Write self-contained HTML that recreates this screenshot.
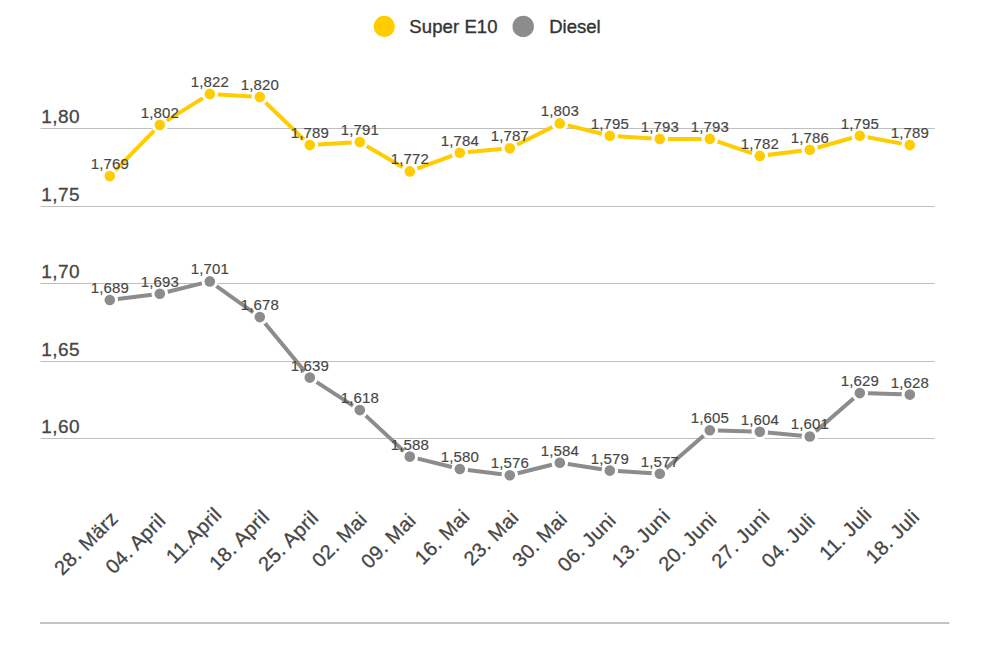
<!DOCTYPE html>
<html><head><meta charset="utf-8"><style>
html,body{margin:0;padding:0;background:#fff;width:990px;height:660px;overflow:hidden}
svg{display:block;font-family:"Liberation Sans",sans-serif}
</style></head><body>
<svg width="990" height="660" viewBox="0 0 990 660">
<rect width="990" height="660" fill="#fff"/>
<circle cx="384.3" cy="26.4" r="10.6" fill="#ffcc00"/>
<text x="409.3" y="33.3" font-size="18.5" letter-spacing="0.1" stroke="#333" stroke-width="0.35" fill="#333">Super E10</text>
<circle cx="523.2" cy="26.4" r="10.7" fill="#8c8c8c"/>
<text x="549.2" y="33.3" font-size="18.5" letter-spacing="0" stroke="#333" stroke-width="0.35" fill="#333">Diesel</text>
<rect x="40.5" y="128" width="894.2" height="1" fill="#bfbfbf"/>
<text x="41.3" y="123.0" font-size="19" letter-spacing="0.4" stroke="#464646" stroke-width="0.3" fill="#464646">1,80</text>
<rect x="40.5" y="206" width="894.2" height="1" fill="#bfbfbf"/>
<text x="41.3" y="201.0" font-size="19" letter-spacing="0.4" stroke="#464646" stroke-width="0.3" fill="#464646">1,75</text>
<rect x="40.5" y="283" width="894.2" height="1" fill="#bfbfbf"/>
<text x="41.3" y="278.0" font-size="19" letter-spacing="0.4" stroke="#464646" stroke-width="0.3" fill="#464646">1,70</text>
<rect x="40.5" y="361" width="894.2" height="1" fill="#bfbfbf"/>
<text x="41.3" y="356.0" font-size="19" letter-spacing="0.4" stroke="#464646" stroke-width="0.3" fill="#464646">1,65</text>
<rect x="40.5" y="438" width="894.2" height="1" fill="#bfbfbf"/>
<text x="41.3" y="433.0" font-size="19" letter-spacing="0.4" stroke="#464646" stroke-width="0.3" fill="#464646">1,60</text>
<rect x="40" y="622" width="909.4" height="2" fill="#c3c3c3"/>
<polyline points="109.8,176.1 159.8,124.9 209.8,93.9 259.8,97.0 309.8,145.1 359.8,142.0 409.8,171.4 459.8,152.8 509.8,148.2 559.8,123.4 609.8,135.8 659.8,138.9 709.8,138.9 759.8,155.9 809.8,149.7 859.8,135.8 909.8,145.1" fill="none" stroke="#ffcc00" stroke-width="4" stroke-linejoin="round"/>
<circle cx="109.8" cy="176.1" r="5.3" fill="#ffcc00" stroke="#fff" stroke-width="6" paint-order="stroke"/>
<circle cx="159.8" cy="124.9" r="5.3" fill="#ffcc00" stroke="#fff" stroke-width="6" paint-order="stroke"/>
<circle cx="209.8" cy="93.9" r="5.3" fill="#ffcc00" stroke="#fff" stroke-width="6" paint-order="stroke"/>
<circle cx="259.8" cy="97.0" r="5.3" fill="#ffcc00" stroke="#fff" stroke-width="6" paint-order="stroke"/>
<circle cx="309.8" cy="145.1" r="5.3" fill="#ffcc00" stroke="#fff" stroke-width="6" paint-order="stroke"/>
<circle cx="359.8" cy="142.0" r="5.3" fill="#ffcc00" stroke="#fff" stroke-width="6" paint-order="stroke"/>
<circle cx="409.8" cy="171.4" r="5.3" fill="#ffcc00" stroke="#fff" stroke-width="6" paint-order="stroke"/>
<circle cx="459.8" cy="152.8" r="5.3" fill="#ffcc00" stroke="#fff" stroke-width="6" paint-order="stroke"/>
<circle cx="509.8" cy="148.2" r="5.3" fill="#ffcc00" stroke="#fff" stroke-width="6" paint-order="stroke"/>
<circle cx="559.8" cy="123.4" r="5.3" fill="#ffcc00" stroke="#fff" stroke-width="6" paint-order="stroke"/>
<circle cx="609.8" cy="135.8" r="5.3" fill="#ffcc00" stroke="#fff" stroke-width="6" paint-order="stroke"/>
<circle cx="659.8" cy="138.9" r="5.3" fill="#ffcc00" stroke="#fff" stroke-width="6" paint-order="stroke"/>
<circle cx="709.8" cy="138.9" r="5.3" fill="#ffcc00" stroke="#fff" stroke-width="6" paint-order="stroke"/>
<circle cx="759.8" cy="155.9" r="5.3" fill="#ffcc00" stroke="#fff" stroke-width="6" paint-order="stroke"/>
<circle cx="809.8" cy="149.7" r="5.3" fill="#ffcc00" stroke="#fff" stroke-width="6" paint-order="stroke"/>
<circle cx="859.8" cy="135.8" r="5.3" fill="#ffcc00" stroke="#fff" stroke-width="6" paint-order="stroke"/>
<circle cx="909.8" cy="145.1" r="5.3" fill="#ffcc00" stroke="#fff" stroke-width="6" paint-order="stroke"/>
<polyline points="109.8,300.0 159.8,293.8 209.8,281.4 259.8,317.1 309.8,377.6 359.8,410.1 409.8,456.6 459.8,469.0 509.8,475.2 559.8,462.8 609.8,470.6 659.8,473.7 709.8,430.3 759.8,431.8 809.8,436.5 859.8,393.1 909.8,394.6" fill="none" stroke="#8c8c8c" stroke-width="4" stroke-linejoin="round"/>
<circle cx="109.8" cy="300.0" r="5.3" fill="#8c8c8c" stroke="#fff" stroke-width="6" paint-order="stroke"/>
<circle cx="159.8" cy="293.8" r="5.3" fill="#8c8c8c" stroke="#fff" stroke-width="6" paint-order="stroke"/>
<circle cx="209.8" cy="281.4" r="5.3" fill="#8c8c8c" stroke="#fff" stroke-width="6" paint-order="stroke"/>
<circle cx="259.8" cy="317.1" r="5.3" fill="#8c8c8c" stroke="#fff" stroke-width="6" paint-order="stroke"/>
<circle cx="309.8" cy="377.6" r="5.3" fill="#8c8c8c" stroke="#fff" stroke-width="6" paint-order="stroke"/>
<circle cx="359.8" cy="410.1" r="5.3" fill="#8c8c8c" stroke="#fff" stroke-width="6" paint-order="stroke"/>
<circle cx="409.8" cy="456.6" r="5.3" fill="#8c8c8c" stroke="#fff" stroke-width="6" paint-order="stroke"/>
<circle cx="459.8" cy="469.0" r="5.3" fill="#8c8c8c" stroke="#fff" stroke-width="6" paint-order="stroke"/>
<circle cx="509.8" cy="475.2" r="5.3" fill="#8c8c8c" stroke="#fff" stroke-width="6" paint-order="stroke"/>
<circle cx="559.8" cy="462.8" r="5.3" fill="#8c8c8c" stroke="#fff" stroke-width="6" paint-order="stroke"/>
<circle cx="609.8" cy="470.6" r="5.3" fill="#8c8c8c" stroke="#fff" stroke-width="6" paint-order="stroke"/>
<circle cx="659.8" cy="473.7" r="5.3" fill="#8c8c8c" stroke="#fff" stroke-width="6" paint-order="stroke"/>
<circle cx="709.8" cy="430.3" r="5.3" fill="#8c8c8c" stroke="#fff" stroke-width="6" paint-order="stroke"/>
<circle cx="759.8" cy="431.8" r="5.3" fill="#8c8c8c" stroke="#fff" stroke-width="6" paint-order="stroke"/>
<circle cx="809.8" cy="436.5" r="5.3" fill="#8c8c8c" stroke="#fff" stroke-width="6" paint-order="stroke"/>
<circle cx="859.8" cy="393.1" r="5.3" fill="#8c8c8c" stroke="#fff" stroke-width="6" paint-order="stroke"/>
<circle cx="909.8" cy="394.6" r="5.3" fill="#8c8c8c" stroke="#fff" stroke-width="6" paint-order="stroke"/>
<text x="109.8" y="169.0" font-size="15" letter-spacing="0.15" text-anchor="middle" stroke="#464646" stroke-width="0.15" fill="#464646">1,769</text>
<text x="159.8" y="117.8" font-size="15" letter-spacing="0.15" text-anchor="middle" stroke="#464646" stroke-width="0.15" fill="#464646">1,802</text>
<text x="209.8" y="86.8" font-size="15" letter-spacing="0.15" text-anchor="middle" stroke="#464646" stroke-width="0.15" fill="#464646">1,822</text>
<text x="259.8" y="89.9" font-size="15" letter-spacing="0.15" text-anchor="middle" stroke="#464646" stroke-width="0.15" fill="#464646">1,820</text>
<text x="309.8" y="138.0" font-size="15" letter-spacing="0.15" text-anchor="middle" stroke="#464646" stroke-width="0.15" fill="#464646">1,789</text>
<text x="359.8" y="134.9" font-size="15" letter-spacing="0.15" text-anchor="middle" stroke="#464646" stroke-width="0.15" fill="#464646">1,791</text>
<text x="409.8" y="164.3" font-size="15" letter-spacing="0.15" text-anchor="middle" stroke="#464646" stroke-width="0.15" fill="#464646">1,772</text>
<text x="459.8" y="145.7" font-size="15" letter-spacing="0.15" text-anchor="middle" stroke="#464646" stroke-width="0.15" fill="#464646">1,784</text>
<text x="509.8" y="141.1" font-size="15" letter-spacing="0.15" text-anchor="middle" stroke="#464646" stroke-width="0.15" fill="#464646">1,787</text>
<text x="559.8" y="116.3" font-size="15" letter-spacing="0.15" text-anchor="middle" stroke="#464646" stroke-width="0.15" fill="#464646">1,803</text>
<text x="609.8" y="128.7" font-size="15" letter-spacing="0.15" text-anchor="middle" stroke="#464646" stroke-width="0.15" fill="#464646">1,795</text>
<text x="659.8" y="131.8" font-size="15" letter-spacing="0.15" text-anchor="middle" stroke="#464646" stroke-width="0.15" fill="#464646">1,793</text>
<text x="709.8" y="131.8" font-size="15" letter-spacing="0.15" text-anchor="middle" stroke="#464646" stroke-width="0.15" fill="#464646">1,793</text>
<text x="759.8" y="148.8" font-size="15" letter-spacing="0.15" text-anchor="middle" stroke="#464646" stroke-width="0.15" fill="#464646">1,782</text>
<text x="809.8" y="142.6" font-size="15" letter-spacing="0.15" text-anchor="middle" stroke="#464646" stroke-width="0.15" fill="#464646">1,786</text>
<text x="859.8" y="128.7" font-size="15" letter-spacing="0.15" text-anchor="middle" stroke="#464646" stroke-width="0.15" fill="#464646">1,795</text>
<text x="909.8" y="138.0" font-size="15" letter-spacing="0.15" text-anchor="middle" stroke="#464646" stroke-width="0.15" fill="#464646">1,789</text>
<text x="109.8" y="292.9" font-size="15" letter-spacing="0.15" text-anchor="middle" stroke="#464646" stroke-width="0.15" fill="#464646">1,689</text>
<text x="159.8" y="286.7" font-size="15" letter-spacing="0.15" text-anchor="middle" stroke="#464646" stroke-width="0.15" fill="#464646">1,693</text>
<text x="209.8" y="274.3" font-size="15" letter-spacing="0.15" text-anchor="middle" stroke="#464646" stroke-width="0.15" fill="#464646">1,701</text>
<text x="259.8" y="310.0" font-size="15" letter-spacing="0.15" text-anchor="middle" stroke="#464646" stroke-width="0.15" fill="#464646">1,678</text>
<text x="309.8" y="370.5" font-size="15" letter-spacing="0.15" text-anchor="middle" stroke="#464646" stroke-width="0.15" fill="#464646">1,639</text>
<text x="359.8" y="403.0" font-size="15" letter-spacing="0.15" text-anchor="middle" stroke="#464646" stroke-width="0.15" fill="#464646">1,618</text>
<text x="409.8" y="449.5" font-size="15" letter-spacing="0.15" text-anchor="middle" stroke="#464646" stroke-width="0.15" fill="#464646">1,588</text>
<text x="459.8" y="461.9" font-size="15" letter-spacing="0.15" text-anchor="middle" stroke="#464646" stroke-width="0.15" fill="#464646">1,580</text>
<text x="509.8" y="468.1" font-size="15" letter-spacing="0.15" text-anchor="middle" stroke="#464646" stroke-width="0.15" fill="#464646">1,576</text>
<text x="559.8" y="455.7" font-size="15" letter-spacing="0.15" text-anchor="middle" stroke="#464646" stroke-width="0.15" fill="#464646">1,584</text>
<text x="609.8" y="463.5" font-size="15" letter-spacing="0.15" text-anchor="middle" stroke="#464646" stroke-width="0.15" fill="#464646">1,579</text>
<text x="659.8" y="466.6" font-size="15" letter-spacing="0.15" text-anchor="middle" stroke="#464646" stroke-width="0.15" fill="#464646">1,577</text>
<text x="709.8" y="423.2" font-size="15" letter-spacing="0.15" text-anchor="middle" stroke="#464646" stroke-width="0.15" fill="#464646">1,605</text>
<text x="759.8" y="424.7" font-size="15" letter-spacing="0.15" text-anchor="middle" stroke="#464646" stroke-width="0.15" fill="#464646">1,604</text>
<text x="809.8" y="429.4" font-size="15" letter-spacing="0.15" text-anchor="middle" stroke="#464646" stroke-width="0.15" fill="#464646">1,601</text>
<text x="859.8" y="386.0" font-size="15" letter-spacing="0.15" text-anchor="middle" stroke="#464646" stroke-width="0.15" fill="#464646">1,629</text>
<text x="909.8" y="387.5" font-size="15" letter-spacing="0.15" text-anchor="middle" stroke="#464646" stroke-width="0.15" fill="#464646">1,628</text>
<text x="119.2" y="519.6" font-size="20" letter-spacing="0.3" text-anchor="end" stroke="#464646" stroke-width="0.3" fill="#464646" transform="rotate(-45 119.2 519.6)">28. März</text>
<text x="166.8" y="522.0" font-size="20" letter-spacing="0.3" text-anchor="end" stroke="#464646" stroke-width="0.3" fill="#464646" transform="rotate(-45 166.8 522.0)">04. April</text>
<text x="222.9" y="515.9" font-size="20" letter-spacing="0.3" text-anchor="end" stroke="#464646" stroke-width="0.3" fill="#464646" transform="rotate(-45 222.9 515.9)">11.April</text>
<text x="270.5" y="518.3" font-size="20" letter-spacing="0.3" text-anchor="end" stroke="#464646" stroke-width="0.3" fill="#464646" transform="rotate(-45 270.5 518.3)">18. April</text>
<text x="319.6" y="519.2" font-size="20" letter-spacing="0.3" text-anchor="end" stroke="#464646" stroke-width="0.3" fill="#464646" transform="rotate(-45 319.6 519.2)">25. April</text>
<text x="368.1" y="520.7" font-size="20" letter-spacing="0.3" text-anchor="end" stroke="#464646" stroke-width="0.3" fill="#464646" transform="rotate(-45 368.1 520.7)">02. Mai</text>
<text x="417.0" y="521.8" font-size="20" letter-spacing="0.3" text-anchor="end" stroke="#464646" stroke-width="0.3" fill="#464646" transform="rotate(-45 417.0 521.8)">09. Mai</text>
<text x="470.8" y="518.0" font-size="20" letter-spacing="0.3" text-anchor="end" stroke="#464646" stroke-width="0.3" fill="#464646" transform="rotate(-45 470.8 518.0)">16. Mai</text>
<text x="519.8" y="519.0" font-size="20" letter-spacing="0.3" text-anchor="end" stroke="#464646" stroke-width="0.3" fill="#464646" transform="rotate(-45 519.8 519.0)">23. Mai</text>
<text x="568.3" y="520.5" font-size="20" letter-spacing="0.3" text-anchor="end" stroke="#464646" stroke-width="0.3" fill="#464646" transform="rotate(-45 568.3 520.5)">30. Mai</text>
<text x="617.1" y="521.7" font-size="20" letter-spacing="0.3" text-anchor="end" stroke="#464646" stroke-width="0.3" fill="#464646" transform="rotate(-45 617.1 521.7)">06. Juni</text>
<text x="671.3" y="517.5" font-size="20" letter-spacing="0.3" text-anchor="end" stroke="#464646" stroke-width="0.3" fill="#464646" transform="rotate(-45 671.3 517.5)">13. Juni</text>
<text x="717.9" y="520.9" font-size="20" letter-spacing="0.3" text-anchor="end" stroke="#464646" stroke-width="0.3" fill="#464646" transform="rotate(-45 717.9 520.9)">20. Juni</text>
<text x="770.9" y="517.9" font-size="20" letter-spacing="0.3" text-anchor="end" stroke="#464646" stroke-width="0.3" fill="#464646" transform="rotate(-45 770.9 517.9)">27. Juni</text>
<text x="816.4" y="522.4" font-size="20" letter-spacing="0.3" text-anchor="end" stroke="#464646" stroke-width="0.3" fill="#464646" transform="rotate(-45 816.4 522.4)">04. Juli</text>
<text x="872.9" y="515.9" font-size="20" letter-spacing="0.3" text-anchor="end" stroke="#464646" stroke-width="0.3" fill="#464646" transform="rotate(-45 872.9 515.9)">11. Juli</text>
<text x="920.6" y="518.2" font-size="20" letter-spacing="0.3" text-anchor="end" stroke="#464646" stroke-width="0.3" fill="#464646" transform="rotate(-45 920.6 518.2)">18. Juli</text>
</svg></body></html>
